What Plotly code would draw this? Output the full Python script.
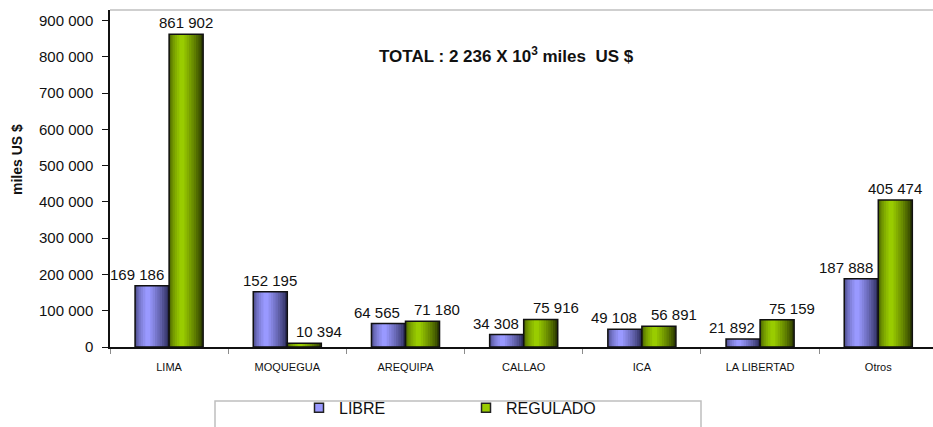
import plotly.graph_objects as go

categories = ["LIMA", "MOQUEGUA", "AREQUIPA", "CALLAO", "ICA", "LA LIBERTAD", "Otros"]
libre = [169186, 152195, 64565, 34308, 49108, 21892, 187888]
regulado = [861902, 10394, 71180, 75916, 56891, 75159, 405474]
y_ticks = [0, 100000, 200000, 300000, 400000, 500000, 600000, 700000, 800000, 900000]
total_text = "TOTAL : 2 236 X 10<sup>3</sup> miles  US $"
y_title = "miles US $"

FONT = "Liberation Sans, Arial, sans-serif"
W, H = 933, 427
M_L, M_R, M_T, M_B = 110, 0, 10, 80
X_RANGE = [-0.5, 6.463]
Y_RANGE = [0, 929000]
BAR_W = 0.288
LAYERS = 9

plot_w = W - M_L - M_R
plot_h = H - M_T - M_B
cat_px = plot_w / (X_RANGE[1] - X_RANGE[0])
bar_px = BAR_W * cat_px


def hex_rgb(h):
    h = h.lstrip("#")
    return [int(h[i:i + 2], 16) for i in (0, 2, 4)]


def mix(c1, c2, t):
    a, b = hex_rgb(c1), hex_rgb(c2)
    return "rgb(%d,%d,%d)" % tuple(round(x + (y - x) * t) for x, y in zip(a, b))


def add_shaded_bars(fig, values, offset, light, dark, name):
    # imitación del degradado "cilíndrico" de Excel con barras superpuestas
    c = 0.38
    for k in range(LAYERS):
        f = k / LAYERS
        left = c * f ** 2
        right = c + (1 - c) * (1 - f)
        col = mix(dark, light, (k / (LAYERS - 1)) ** 0.8)
        fig.add_trace(go.Bar(
            x=categories, y=values, width=BAR_W * (right - left), offset=offset + BAR_W * left,
            marker=dict(color=col, line=dict(width=0)), showlegend=False, hoverinfo="skip",
        ))
    fig.add_trace(go.Bar(
        x=categories, y=values, width=BAR_W, offset=offset,
        marker=dict(color="rgba(0,0,0,0)", line=dict(color="#111111", width=1.5)),
        showlegend=False, name=name,
    ))
    # entrada de leyenda (cuadradito pequeño)
    fig.add_trace(go.Scatter(
        x=[None], y=[None], name=name, mode="markers",
        marker=dict(symbol="square", size=9, color=light, line=dict(color="#222222", width=1.5)),
    ))


def fmt(v):
    return f"{v:,}".replace(",", " ")


fig = go.Figure()
add_shaded_bars(fig, libre, -BAR_W, "#9999ff", "#2e2e5c", "LIBRE")
add_shaded_bars(fig, regulado, 0, "#99cc00", "#2c3a00", "REGULADO")

annotations = []
for i, cat in enumerate(categories):
    a, b = libre[i], regulado[i]
    if a - b > 100000:
        annotations.append(dict(x=cat, y=a, text=fmt(a), xanchor="center", xshift=-bar_px / 2))
    else:
        annotations.append(dict(x=cat, y=a, text=fmt(a), xanchor="right", xshift=-3))
    if b - a > 100000:
        annotations.append(dict(x=cat, y=b, text=fmt(b), xanchor="center", xshift=bar_px / 2))
    else:
        annotations.append(dict(x=cat, y=b, text=fmt(b), xanchor="left", xshift=7))
for an in annotations:
    an.update(xref="x", yref="y", yanchor="bottom", yshift=1, showarrow=False,
              font=dict(size=15, color="#111111"))

annotations.append(dict(
    x=(506 - M_L) / plot_w, y=(H - M_B - 55) / plot_h, xref="paper", yref="paper",
    xanchor="center", yanchor="middle",
    text="<b>" + total_text + "</b>", showarrow=False, font=dict(size=17, color="#111111"),
))
annotations.append(dict(
    x=(17 - M_L) / plot_w, y=(H - M_B - 160) / plot_h, xref="paper", yref="paper",
    xanchor="center", yanchor="middle",
    text="<b>" + y_title + "</b>", textangle=-90, showarrow=False,
    font=dict(size=14, color="#111111"),
))

fig.update_layout(
    width=W, height=H,
    margin=dict(l=M_L, r=M_R, t=M_T, b=M_B, autoexpand=False),
    barmode="overlay",
    separators=". ",
    paper_bgcolor="white", plot_bgcolor="white",
    font=dict(family=FONT, color="#111111"),
    annotations=annotations,
    showlegend=True,
    legend=dict(
        orientation="h", x=(299 - M_L) / plot_w, y=-0.13, xanchor="left", yanchor="top",
        font=dict(size=16), entrywidth=122, bgcolor="rgba(0,0,0,0)",
    ),
    shapes=[
        dict(type="line", xref="paper", yref="paper", x0=0, x1=1, y0=1, y1=1,
             line=dict(color="#cfcfcf", width=2)),
        dict(type="rect", xref="paper", yref="paper",
             x0=(215 - M_L) / plot_w, x1=(701 - M_L) / plot_w,
             y0=-0.4, y1=(H - M_B - 401) / plot_h,
             line=dict(color="#bfbfbf", width=1.5)),
    ],
    xaxis=dict(
        range=X_RANGE, showgrid=False, showline=True, linecolor="#111111", linewidth=1.5,
        ticks="outside", tickson="boundaries", ticklen=5, tickcolor="#8c8c8c",
        tickfont=dict(size=11), ticklabelstandoff=9, fixedrange=True, automargin=False,
    ),
    yaxis=dict(
        range=Y_RANGE, tickvals=y_ticks, tickformat=",d", showgrid=False, zeroline=False,
        showline=True, linecolor="#111111", linewidth=1.5, ticks="outside", ticklen=6,
        tickcolor="#111111", tickfont=dict(size=15), ticklabelstandoff=6, automargin=False,
    ),
)

fig.write_html("out.html", config={"displayModeBar": False},
               post_script="document.body.style.margin='0';")
